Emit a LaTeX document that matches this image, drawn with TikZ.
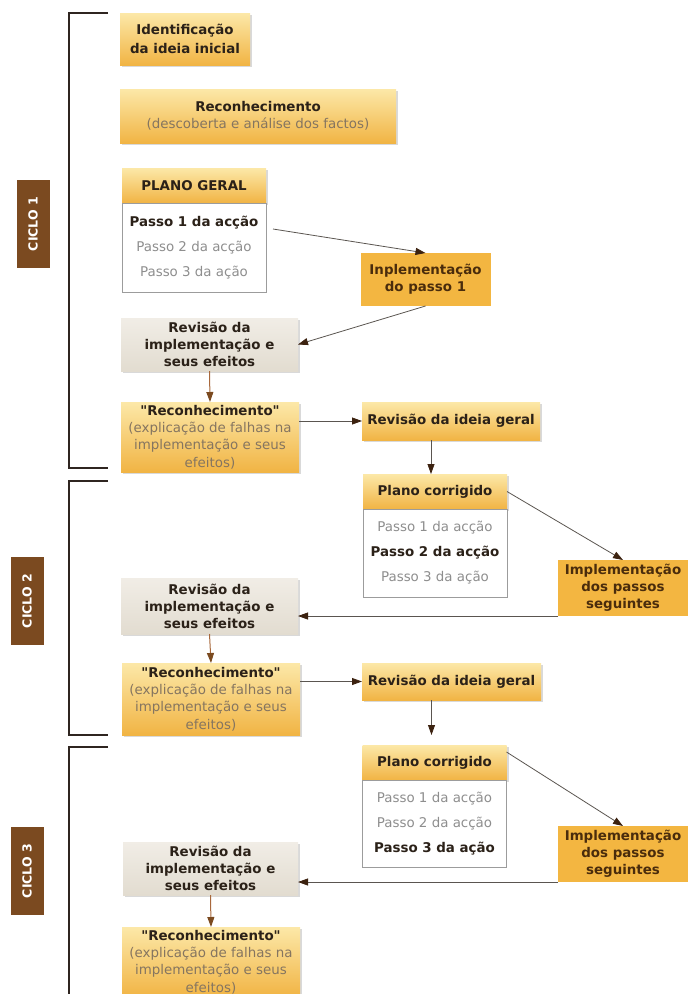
\documentclass[tikz,border=0pt]{standalone}
\usepackage{fontspec}
\setmainfont{DejaVu Sans}
\newfontfamily\quotefont{DejaVu Sans}
\usepackage{xcolor}
\usepackage{tikz}
\usetikzlibrary{positioning, shapes, calc, arrows.meta, shadows}

\definecolor{goldtop}{HTML}{FCE8A8}
\definecolor{goldbot}{HTML}{F1B444}
\definecolor{implfill}{HTML}{F3B641}
\definecolor{impltext}{HTML}{4A2C0C}
\definecolor{revtop}{HTML}{F1EDE6}
\definecolor{revbot}{HTML}{E2DCD0}
\definecolor{subtext}{HTML}{857560}
\definecolor{listline}{HTML}{9C9C9C}
\definecolor{steptext}{HTML}{8E8E8E}
\definecolor{darktext}{HTML}{2B2118}
\definecolor{cyclebrown}{HTML}{7B4A20}
\definecolor{bracketcol}{HTML}{2F2520}
\definecolor{linkgray}{HTML}{5A5550}
\definecolor{tipbrown}{HTML}{3C2210}
\definecolor{revlinkcol}{HTML}{A8683C}

\newcommand{\quoted}[1]{{\quotefont"}#1{\quotefont"}}

\begin{document}
\begin{tikzpicture}[x=1pt, y=-1pt,
    every node/.style={inner sep=2pt, outer sep=0pt, align=center, text=darktext},
    goldbox/.style={top color=goldtop, bottom color=goldbot,
      drop shadow={shadow xshift=2pt, shadow yshift=-2pt, opacity=0.3},
      font=\bfseries\fontsize{13.4}{17.5}\selectfont},
    recbox/.style={goldbox, text=subtext, font=\fontsize{13.4}{17.3}\selectfont},
    planhead/.style={goldbox, minimum width=144, minimum height=35},
    steplist/.style={draw=listline, line width=0.8pt, fill=white, text=steptext,
      minimum width=144, font=\fontsize{13.4}{25}\selectfont},
    implbox/.style={fill=implfill, text=impltext, minimum width=130,
      font=\bfseries\fontsize{13.4}{17}\selectfont},
    revbox/.style={top color=revtop, bottom color=revbot,
      drop shadow={shadow xshift=2pt, shadow yshift=-2pt, opacity=0.3},
      font=\bfseries\fontsize{13.4}{17}\selectfont},
    cyclebox/.style={fill=cyclebrown, text=white, rotate=90, minimum width=88,
      minimum height=33, font=\bfseries\fontsize{12.5}{14}\selectfont},
    bracket/.style={draw=bracketcol, line width=2pt},
    link/.style={draw=linkgray, line width=0.8pt,
      -{Triangle[length=10pt, width=7pt, color=tipbrown]}},
    revlink/.style={draw=revlinkcol, line width=1pt,
      -{Triangle[length=10pt, width=7pt, color=cyclebrown]}}]
  \useasboundingbox (0,0) rectangle (688,994);

  \draw[bracket] (108,13) -- (69,13) -- (69,468) -- (108,468);
  \draw[bracket] (108,481) -- (69,481) -- (69,735) -- (108,735);
  \draw[bracket] (108,747) -- (69,747) -- (69,1000);

  \node[cyclebox] (cycA) at (33,224) {CICLO 1};
  \node[cyclebox] (cycB) at (27,601) {CICLO 2};
  \node[cyclebox] (cycC) at (27,871) {CICLO 3};

  % ciclo 1
  \node[goldbox, minimum width=130, minimum height=52,
    font=\bfseries\fontsize{13.4}{19}\selectfont] (idea) at (185,39) {Identificação\\da ideia inicial};
  \node[recbox, minimum width=276, minimum height=54] (recon) at (258,116)
    {\textbf{\color{darktext}Reconhecimento}\\(descoberta e análise dos factos)};

  \node[planhead] (planA) at (194,185.5) {PLANO GERAL};
  \node[steplist, minimum height=89, below=0pt of planA] (listA)
    {\textbf{\color{darktext}Passo 1 da acção}\\Passo 2 da acção\\Passo 3 da ação};
  \node[implbox, minimum height=53] (implA) at (425.5,279.5) {Inplementação\\do passo 1};

  \node[revbox, minimum width=177, minimum height=53] (revA) at (209.5,344.5)
    {Revisão da\\implementação e\\seus efeitos};
  \node[recbox, minimum width=178, minimum height=70] (recA) at (210,437)
    {\textbf{\color{darktext}\quoted{Reconhecimento}}\\(explicação de falhas na\\implementação e seus\\efeitos)};
  \node[goldbox, minimum width=178, minimum height=38] (ideaA) at (451,421) {Revisão da ideia geral};

  % ciclo 2
  \node[planhead] (planB) at (435,491.5) {Plano corrigido};
  \node[steplist, minimum height=88, below=0pt of planB] (listB)
    {Passo 1 da acção\\\textbf{\color{darktext}Passo 2 da acção}\\Passo 3 da ação};
  \node[implbox, minimum height=56] (implB) at (623,588) {Implementação\\dos passos\\seguintes};

  \node[revbox, minimum width=177, minimum height=56] (revB) at (209.5,606)
    {Revisão da\\implementação e\\seus efeitos};
  \node[recbox, minimum width=178, minimum height=72] (recB) at (211,699)
    {\textbf{\color{darktext}\quoted{Reconhecimento}}\\(explicação de falhas na\\implementação e seus\\efeitos)};
  \node[goldbox, minimum width=179, minimum height=37] (ideaB) at (451.5,681.5) {Revisão da ideia geral};

  % ciclo 3
  \node[planhead] (planC) at (434.5,762.5) {Plano corrigido};
  \node[steplist, minimum height=87, below=0pt of planC] (listC)
    {Passo 1 da acção\\Passo 2 da acção\\\textbf{\color{darktext}Passo 3 da ação}};
  \node[implbox, minimum height=56] (implC) at (623,854) {Implementação\\dos passos\\seguintes};

  \node[revbox, minimum width=175, minimum height=53] (revC) at (210.5,868.5)
    {Revisão da\\implementação e\\seus efeitos};
  \node[recbox, minimum width=178, minimum height=70] (recC) at (211,962)
    {\textbf{\color{darktext}\quoted{Reconhecimento}}\\(explicação de falhas na\\implementação e seus\\efeitos)};

  \draw[link] ($(listA.north east)+(7,26)$) -- (implA.north);
  \draw[link] (implA.south) -- (revA.east);
  \draw[revlink] (revA.south) -- (recA.north);
  \draw[link] (recA.east |- ideaA.west) -- (ideaA.west);
  \draw[link] ([xshift=-20pt]ideaA.south) -- ([xshift=-20pt]ideaA.south |- planB.north);

  \draw[link] (planB.east) -- (implB.north);
  \draw[link] (implB.south west) -- (revB.east |- implB.south west);
  \draw[revlink] (revB.south) -- (recB.north);
  \draw[link] (recB.east |- ideaB.west) -- (ideaB.west);
  \draw[link, shorten >=10pt] ([xshift=-20pt]ideaB.south) -- ([xshift=-20pt]ideaB.south |- planC.north);

  \draw[link] ($(planC.north east)+(0,7)$) -- (implC.north);
  \draw[link] (implC.south west) -- (revC.east |- implC.south west);
  \draw[revlink] (revC.south) -- (recC.north);
\end{tikzpicture}
\end{document}
